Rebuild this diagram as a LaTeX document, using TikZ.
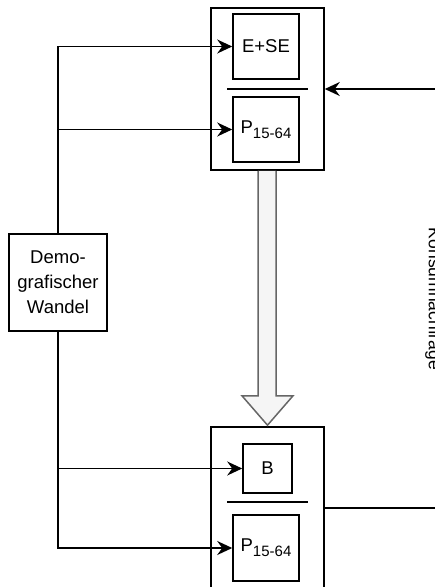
\documentclass[tikz,border=0pt]{standalone}
\usepackage{fontspec}
\setmainfont{Liberation Sans}
\usetikzlibrary{arrows.meta, positioning, calc}

\newcommand{\lowidx}[1]{\raisebox{-5pt}{\fontsize{15}{15}\selectfont #1}}

\begin{document}
\begin{tikzpicture}[
          x=1pt, y=-1pt,
          font=\fontsize{18.5}{25}\selectfont,
          frame/.style={draw, line width=1.6pt, minimum width=113pt, minimum height=162pt, inner sep=0pt},
          box/.style={draw, line width=1.6pt, minimum width=66pt, minimum height=65pt, inner sep=0pt, align=center},
          arrow/.style={-{Stealth[length=15pt, width=14pt, inset=5pt]}, line width=1.5pt},
          line/.style={line width=1.5pt},
          bigarrow/.style={draw=black!60, fill=black!4, line width=1.5pt, line join=miter}
        ]
          \useasboundingbox (0,0) rectangle (435,587);
          \clip (0,0) rectangle (435,587);

          % upper block
          \node[frame] (top) at (267.5,89) {};
          \node[box] (ese) at (266,46.5) {E+SE};
          \node[box] (p1) at (266,129.5) {P\lowidx{15-64}};
          \draw[line] ($(top.center)+(-40.5,0)$) -- ++(81,0);

          % lower block
          \node[frame] (bot) at (267.5,508) {};
          \node[box, minimum width=49pt, minimum height=49pt] (b) at (267.5,468.5) {B};
          \node[box, minimum height=66pt] (p2) at (266,548) {P\lowidx{15-64}};
          \draw[line] ($(bot.center)+(-40.5,-6)$) -- ++(81,0);

          % left driver
          \node[draw, line width=1.6pt, minimum width=98pt, minimum height=97pt, inner sep=0pt, align=center] (demo) at (58,282.5) {Demo-\\grafischer\\Wandel};
          \draw[arrow] (demo.north) |- (ese.west);
          \draw[arrow] (demo.north) |- (p1.west);
          \draw[arrow] (demo.south) |- (b.west);
          \draw[arrow] (demo.south) |- (p2.west);

          % transition arrow
          \draw[bigarrow] ($(top.south)+(-9.5,0)$) -- ($(top.south)+(-9.5,225)$) -- ($(top.south)+(-25.5,225)$)
            -- ($(bot.north)+(0,-1)$) -- ($(top.south)+(25.5,225)$) -- ($(top.south)+(8.5,225)$)
            -- ($(top.south)+(8.5,0)$);

          % right side
          \coordinate (kin) at (440,89);
          \coordinate (kout) at (440,508);
          \draw[arrow] (kin) -- (top.east);
          \draw[line] (bot.east) -- (kout);
          \node[rotate=-90, font=\fontsize{17.5}{20}\selectfont] (kons) at (433.5,299) {Konsumnachfrage};
        \end{tikzpicture}
\end{document}
